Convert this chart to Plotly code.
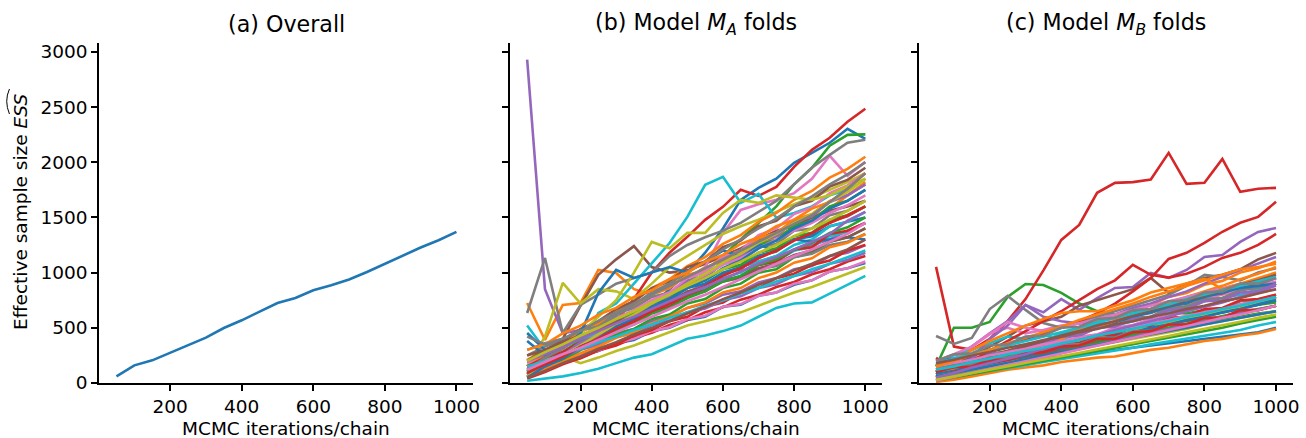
import plotly.graph_objects as go

iterations = [50, 100, 150, 200, 250, 300, 350, 400, 450, 500,
              550, 600, 650, 700, 750, 800, 850, 900, 950, 1000]

overall_ess = [60, 160, 205, 272, 341, 411, 498, 568, 646, 725,
               770, 840, 885, 937, 1006, 1082, 1154, 1227, 1293, 1369]

ma_fold_ess = [
    [120,180,240,320,400,470,560,700,850,1000,1180,1400,1659,1768,1850,1995,2085,2176,2303,2212],
    [725,390,707,725,1024,997,850,800,900,950,1050,1100,1180,1250,1330,1400,1500,1580,1700,1820],
    [60,150,260,350,420,500,580,650,750,880,1000,1150,1300,1450,1600,1800,1950,2150,2248,2252],
    [80,180,250,330,420,560,760,1000,1180,1324,1478,1596,1750,1695,1777,1958,2112,2221,2366,2484],
    [2930,850,450,480,520,580,640,700,760,820,900,980,1050,1100,1150,1200,1250,1300,1380,1450],
    [150,250,400,700,980,1120,1240,1050,1000,1020,1080,1150,1220,1300,1380,1420,1500,1560,1600,1650],
    [100,150,280,380,450,520,600,700,800,900,1050,1360,1568,1620,1660,1720,1850,2058,1877,2003],
    [634,1133,453,707,800,900,950,1000,1150,1250,1320,1380,1450,1550,1650,1800,1950,2067,2176,2203],
    [150,420,907,720,850,830,760,900,1050,1150,1250,1350,1420,1480,1550,1620,1680,1750,1820,1900],
    [50,120,180,300,634,720,900,1088,1268,1505,1795,1868,1632,1713,1496,1540,1600,1700,1750,1850],
    [80,140,180,250,290,360,390,470,500,570,600,690,710,790,820,890,930,1010,1040,1088],
    [210,300,350,470,520,640,690,800,860,980,1020,1150,1190,1310,1360,1480,1530,1650,1700,1800],
    [110,220,280,390,450,560,620,740,790,910,960,1080,1130,1250,1300,1420,1470,1600,1650,1750],
    [60,110,180,225,295,340,410,455,525,570,640,685,755,800,870,915,985,1030,1100,1150],
    [150,220,260,330,370,450,490,560,600,680,720,800,830,910,950,1030,1060,1150,1180,1250],
    [100,190,250,350,400,510,560,660,720,830,870,990,1030,1150,1190,1300,1350,1460,1510,1600],
    [90,150,190,260,295,365,400,470,505,580,610,690,715,790,820,900,930,1010,1040,1100],
    [250,330,390,480,530,630,680,780,820,930,970,1080,1110,1230,1260,1380,1400,1520,1560,1650],
    [120,200,240,180,230,290,340,400,460,520,560,600,640,700,760,820,870,930,990,1050],
    [520,300,330,400,450,540,580,670,710,800,840,930,970,1070,1100,1200,1230,1330,1370,1450],
    [453,300,320,420,500,580,620,720,760,860,900,1000,1050,1150,1200,1300,1330,1420,1460,1500],
    [150,260,340,460,540,660,740,860,940,1060,1140,1260,1340,1460,1540,1660,1740,1860,1940,2050],
    [80,160,210,300,350,440,490,580,620,720,760,860,900,1000,1030,1140,1180,1280,1320,1400],
    [40,100,170,225,300,350,430,480,560,600,690,730,820,860,950,990,1070,1110,1200,1250],
    [130,190,235,305,345,415,455,525,565,640,675,750,785,860,895,970,1005,1080,1115,1180],
    [200,300,380,490,560,670,740,860,920,1050,1100,1230,1290,1420,1470,1600,1650,1780,1840,1950],
    [60,170,245,360,440,560,630,750,820,950,1010,1140,1200,1340,1400,1530,1590,1720,1790,1900],
    [300,360,400,480,510,590,620,700,730,810,840,920,950,1030,1060,1140,1170,1250,1280,1350],
    [100,200,320,450,600,750,1000,1278,1220,1360,1360,1541,1659,1632,1700,1680,1660,1700,1780,1850],
    [100,180,250,340,400,490,550,640,700,800,850,950,1000,1100,1150,1250,1300,1420,1460,1550],
    [380,250,320,450,816,1024,952,1000,1050,1000,1100,1200,1150,1250,1200,1300,1280,1300,1320,1300],
    [60,130,190,270,330,410,460,540,600,680,730,820,860,950,1000,1090,1130,1230,1270,1350],
    [200,280,340,430,490,580,640,730,780,880,930,1030,1070,1180,1220,1330,1360,1480,1520,1600],
    [150,230,280,370,420,510,550,640,690,790,830,930,960,1070,1100,1210,1230,1350,1380,1450],
    [80,180,250,370,430,550,610,730,790,920,970,1100,1150,1280,1330,1460,1510,1640,1700,1800],
    [250,300,370,430,480,560,600,680,720,800,840,920,960,1040,1080,1160,1200,1280,1320,1400],
    [180,270,330,430,500,590,660,750,810,900,980,1070,1130,1220,1300,1380,1450,1540,1610,1700],
    [120,230,310,420,500,610,710,820,900,1010,1100,1210,1300,1400,1490,1600,1690,1800,1890,2000],
    [60,160,250,340,440,530,620,720,800,900,990,1090,1170,1270,1350,1450,1530,1640,1730,1850],
    [150,200,260,310,370,420,480,530,590,640,700,750,810,860,920,970,1030,1080,1140,1200],
    [50,150,220,330,400,510,580,690,760,860,930,1040,1110,1220,1290,1400,1470,1580,1650,1750],
    [300,350,450,520,620,680,780,840,940,1000,1100,1160,1260,1320,1420,1480,1580,1640,1760,1900],
    [100,180,240,330,390,480,530,630,680,770,830,920,970,1070,1120,1210,1270,1360,1410,1500],
    [90,170,240,330,400,490,560,650,720,810,880,970,1040,1130,1200,1290,1360,1450,1520,1600],
    [200,260,330,400,470,540,600,670,740,810,870,940,1010,1080,1140,1210,1280,1350,1470,1550],
    [50,110,180,240,310,370,440,500,560,630,690,760,820,890,950,1020,1080,1150,1210,1300],
    [120,190,260,320,390,460,530,600,670,740,800,870,940,1010,1080,1150,1210,1280,1350,1450],
    [420,350,400,470,560,640,720,800,880,960,1040,1120,1200,1280,1360,1440,1520,1640,1760,1900],
    [200,280,350,430,500,580,650,730,800,880,950,1030,1100,1180,1250,1330,1400,1480,1560,1650],
    [20,40,60,90,130,180,230,260,330,400,430,470,520,600,680,720,730,810,890,970],
]

mb_fold_ess = [
    [20,60,100,140,170,200,220,240,260,280,300,320,340,360,380,400,420,440,460,500],
    [10,30,60,90,120,140,160,190,210,230,240,270,300,320,350,380,400,430,450,490],
    [150,500,500,553,780,897,888,816,720,650,620,650,660,640,630,660,650,680,710,730],
    [1052,330,300,400,560,760,1020,1296,1432,1723,1813,1820,1843,2085,1804,1813,2030,1732,1760,1768],
    [100,200,330,450,560,707,640,760,662,770,861,870,997,952,1024,1142,1160,1278,1369,1405],
    [80,150,250,330,420,520,560,600,700,750,800,850,952,816,900,950,980,1030,1120,1179],
    [150,220,330,450,500,450,480,520,540,560,580,600,640,680,720,760,800,840,880,920],
    [426,354,408,670,789,662,544,500,550,600,650,700,750,800,880,979,960,930,1000,1040],
    [181,73,120,170,220,260,300,340,380,420,460,490,530,560,600,630,660,690,720,760],
    [200,250,300,360,420,400,435,390,450,500,520,560,600,650,700,740,770,800,850,900],
    [215,220,225,235,245,270,300,340,370,410,440,480,520,550,590,630,670,710,740,780],
    [50,110,155,225,265,335,375,445,485,555,595,665,705,780,815,890,925,1000,1040,1100],
    [100,140,165,215,240,285,330,360,400,430,480,500,540,575,560,600,665,700,740,780],
    [150,200,250,300,350,400,450,500,560,630,720,830,950,1124,1179,1269,1370,1451,1505,1641],
    [80,140,220,400,520,707,600,560,540,580,620,680,720,780,830,900,960,1020,1080,1142],
    [120,170,200,260,290,345,375,435,460,520,550,610,635,700,720,790,810,875,895,950],
    [60,105,160,190,250,275,330,360,420,440,500,525,580,610,660,690,740,775,820,850],
    [100,160,180,250,265,340,350,420,430,500,520,590,600,680,690,760,770,840,860,900],
    [40,75,110,145,180,215,250,285,320,355,390,420,460,490,530,560,600,630,670,700],
    [100,160,185,260,280,350,370,450,460,540,550,620,640,700,730,800,820,880,910,950],
    [100,150,190,240,280,330,370,420,460,510,550,600,640,690,730,780,820,860,880,900],
    [20,80,130,190,240,300,350,400,460,510,560,620,670,720,780,830,880,940,990,1050],
    [50,85,120,150,190,220,260,290,330,360,400,430,470,500,540,570,610,640,670,700],
    [227,118,200,290,380,470,560,650,750,850,930,1070,980,955,990,1052,1133,1179,1251,1350],
    [120,170,190,260,270,340,350,420,430,500,510,580,590,660,670,740,750,820,830,880],
    [50,90,125,160,200,235,270,310,345,380,420,455,490,530,565,600,640,675,710,750],
    [200,260,330,440,553,500,470,500,540,580,620,660,700,740,780,820,860,900,930,950],
    [60,110,130,200,200,270,280,350,360,430,440,510,510,580,590,660,670,740,750,800],
    [100,130,170,200,240,270,310,340,380,410,450,480,520,550,590,620,660,690,740,780],
    [30,55,80,110,135,160,190,215,240,270,295,320,350,375,400,430,455,480,520,553],
    [80,110,150,180,220,250,290,320,360,390,430,460,500,530,570,600,640,670,710,750],
    [100,200,300,380,450,520,580,634,650,650,700,750,820,860,900,943,850,900,950,1000],
    [150,170,200,230,250,280,310,330,360,390,410,440,470,490,520,550,570,600,630,650],
    [50,100,120,190,200,270,280,350,360,430,440,510,520,590,600,670,680,750,760,800],
    [30,65,100,135,170,205,240,280,310,350,380,420,450,490,520,560,590,630,660,700],
    [100,150,200,240,290,330,380,430,470,520,560,610,660,700,750,790,840,890,930,980],
    [150,180,210,250,280,310,350,380,410,440,480,510,540,570,610,640,670,710,740,780],
    [120,160,170,230,230,290,290,350,350,410,410,470,470,530,530,590,590,660,660,700],
    [60,90,120,150,180,215,245,275,305,340,370,400,430,460,490,530,560,590,620,650],
    [180,220,260,300,340,380,420,460,500,550,590,630,670,710,760,800,840,880,920,961],
    [60,90,120,150,185,215,250,280,310,345,375,410,440,470,500,530,560,590,620,650],
    [150,200,250,300,360,410,460,510,570,620,670,720,780,830,880,930,980,1030,1050,1080],
    [20,50,80,110,140,170,200,230,260,290,320,350,380,410,440,470,500,540,570,600],
    [100,140,150,210,210,270,280,330,340,400,400,460,470,530,530,590,590,660,660,700],
    [50,90,140,180,220,260,310,350,390,430,480,520,560,600,650,690,730,780,830,900],
    [180,210,250,280,320,350,390,420,460,490,530,560,600,630,670,700,740,770,810,850],
    [20,55,90,125,160,200,230,270,300,340,370,410,440,480,510,550,590,620,660,700],
    [200,260,270,340,350,420,430,500,510,580,590,660,670,740,750,820,830,900,900,950],
    [30,60,90,120,150,180,210,240,275,305,335,365,395,425,460,490,520,555,590,620],
    [120,150,190,220,260,290,320,360,390,430,460,490,530,560,600,630,670,700,740,780],
]

x_ticks = [200, 400, 600, 800, 1000]
y_ticks = [0, 500, 1000, 1500, 2000, 2500, 3000]
titles = ["(a) Overall", "(b) Model <i>M<sub>A</sub></i> folds", "(c) Model <i>M<sub>B</sub></i> folds"]
x_title = "MCMC iterations/chain"
y_title = "Effective sample size <i>ESS</i>"

tab10 = ['#1f77b4', '#ff7f0e', '#2ca02c', '#d62728', '#9467bd',
         '#8c564b', '#e377c2', '#7f7f7f', '#bcbd22', '#17becf']

W, H = 1306, 438
T, B = 43, 55
doms = [(100 / W, 476 / W), (513 / W, 887 / W), (924 / W, 1300 / W)]
LW = 2.6
FONT = "DejaVu Sans"

fig = go.Figure()
fig.add_trace(go.Scatter(x=iterations, y=overall_ess, mode="lines",
                         line=dict(color=tab10[0], width=LW), xaxis="x", yaxis="y",
                         showlegend=False, hoverinfo="skip"))
for i, ys in enumerate(ma_fold_ess):
    fig.add_trace(go.Scatter(x=iterations, y=ys, mode="lines",
                             line=dict(color=tab10[i % 10], width=LW), xaxis="x2", yaxis="y2",
                             showlegend=False, hoverinfo="skip"))
for i, ys in enumerate(mb_fold_ess):
    fig.add_trace(go.Scatter(x=iterations, y=ys, mode="lines",
                             line=dict(color=tab10[i % 10], width=LW), xaxis="x3", yaxis="y3",
                             showlegend=False, hoverinfo="skip"))

tickfont = dict(family=FONT, size=18.5, color="black")
common_x = dict(range=[2.5, 1047.5], tickvals=x_ticks, showgrid=False, zeroline=False,
                showline=True, linecolor="black", linewidth=1.5, ticks="outside",
                ticklen=6.5, tickwidth=1.5, tickcolor="black", tickfont=tickfont)
common_y = dict(range=[0, 3080], tickvals=y_ticks, domain=[0, 1], showgrid=False, zeroline=False,
                showline=True, linecolor="black", linewidth=1.5, ticks="outside",
                ticklen=6.5, tickwidth=1.5, tickcolor="black", tickfont=tickfont)

layout = dict(width=W, height=H, margin=dict(l=0, r=0, t=T, b=B),
              paper_bgcolor="white", plot_bgcolor="white",
              font=dict(family=FONT, color="black"))
layout["xaxis"] = dict(common_x, domain=list(doms[0]), anchor="y")
layout["xaxis2"] = dict(common_x, domain=list(doms[1]), anchor="y2")
layout["xaxis3"] = dict(common_x, domain=list(doms[2]), anchor="y3")
layout["yaxis"] = dict(common_y, anchor="x")
layout["yaxis2"] = dict(common_y, anchor="x2", showticklabels=False)
layout["yaxis3"] = dict(common_y, anchor="x3", showticklabels=False)
fig.update_layout(**layout)

plot_h = H - T - B
def py(pix):
    return (H - B - pix) / plot_h

anns = []
for (d0, d1), t in zip(doms, titles):
    xc = (d0 + d1) / 2
    anns.append(dict(text=t, x=xc, y=py(24), xref="paper", yref="paper",
                     xanchor="center", yanchor="middle", showarrow=False,
                     font=dict(family=FONT, size=22.2, color="black")))
    anns.append(dict(text=x_title, x=xc, y=py(428), xref="paper", yref="paper",
                     xanchor="center", yanchor="middle", showarrow=False,
                     font=dict(family=FONT, size=18.5, color="black")))
anns.append(dict(text=y_title, x=20 / W, y=py(212), xref="paper", yref="paper",
                 xanchor="center", yanchor="middle", textangle=-90, showarrow=False,
                 font=dict(family=FONT, size=18.5, color="black")))
fig.update_layout(annotations=anns)

# wide hat over ESS in the rotated y label
hx = lambda p: p / W
fig.add_shape(type="path", xref="paper", yref="paper",
              path=f"M {hx(9.5)} {py(89)} Q {hx(4.0)} {py(101)} {hx(9.5)} {py(114)}",
              line=dict(color="black", width=1))

fig.write_html("out.html", config={"displayModeBar": False},
               post_script="document.body.style.margin='0';document.body.style.overflow='hidden';")
